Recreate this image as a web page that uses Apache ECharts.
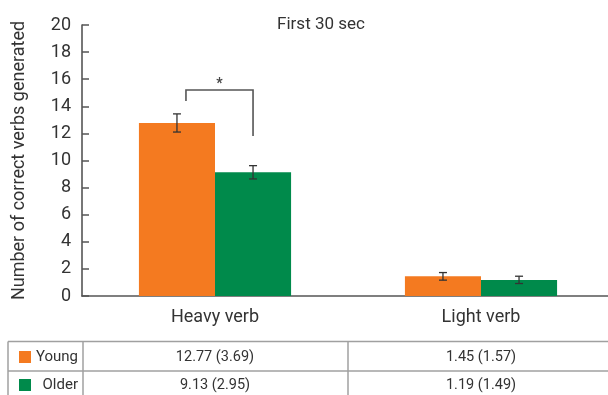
<!DOCTYPE html>
<html>
<head>
<meta charset="utf-8">
<script src="https://cdn.jsdelivr.net/npm/echarts@6/dist/echarts.min.js"></script>
<style>
  html, body { margin: 0; padding: 0; background: #fff; }
  #chart { width: 608px; height: 395px; }
</style>
</head>
<body>
<div id="chart"></div>
<script>
// Verb generation in the first 30 seconds, by age group
const categories = ['Heavy verb', 'Light verb'];
const groups = ['Young', 'Older'];
const youngMean = [12.77, 1.45];
const youngSD = [3.69, 1.57];
const olderMean = [9.13, 1.19];
const olderSD = [2.95, 1.49];
// half-length of the error bars (standard error)
const youngErr = [0.67, 0.28];
const olderErr = [0.49, 0.27];
const yTicks = [0, 2, 4, 6, 8, 10, 12, 14, 16, 18, 20];
// significance bracket over Heavy verb: [category, left leg end, top, right leg end]
const bracket = [[0, 14.4, 15.2, 11.8]];

const colors = ['#F47A20', '#008A4B'];
const FONT = 'Roboto, "Noto Sans", sans-serif';
const BAR_FRAC = 0.286;

const chart = echarts.init(document.getElementById('chart'));

function errRender(seriesIdx) {
  return function (params, api) {
    const cat = api.value(0);
    const lo = api.coord([cat, api.value(1)]);
    const hi = api.coord([cat, api.value(2)]);
    const band = api.size([1, 0])[0];
    const bw = band * BAR_FRAC;
    const x = lo[0] + (seriesIdx === 0 ? -bw / 2 : bw / 2);
    const cap = 4;
    const st = { stroke: '#333', lineWidth: 1.3 };
    return {
      type: 'group',
      children: [
        { type: 'line', shape: { x1: x, y1: lo[1], x2: x, y2: hi[1] }, style: st },
        { type: 'line', shape: { x1: x - cap, y1: lo[1], x2: x + cap, y2: lo[1] }, style: st },
        { type: 'line', shape: { x1: x - cap, y1: hi[1], x2: x + cap, y2: hi[1] }, style: st }
      ]
    };
  };
}

function bracketRender(params, api) {
  const cat = api.value(0);
  const band = api.size([1, 0])[0];
  const bw = band * BAR_FRAC;
  const c = api.coord([cat, 0])[0];
  const xl = c - bw / 2 + 9;
  const xr = c + bw / 2;
  const yl = api.coord([cat, api.value(1)])[1];
  const yt = api.coord([cat, api.value(2)])[1];
  const yr = api.coord([cat, api.value(3)])[1];
  return {
    type: 'group',
    children: [
      { type: 'polyline', shape: { points: [[xl, yl], [xl, yt], [xr, yt], [xr, yr]] },
        style: { stroke: '#555', lineWidth: 1.6, fill: null } },
      { type: 'text', style: { text: '*', x: (xl + xr) / 2, y: yt + 1, align: 'center',
        verticalAlign: 'bottom', font: 'bold 14px ' + FONT, fill: '#444' } }
    ]
  };
}

chart.setOption({
  animation: false,
  title: {
    text: 'First 30 sec',
    left: 316, top: 11, textAlign: 'center',
    textStyle: { fontFamily: FONT, fontSize: 17, fontWeight: 'normal', color: '#333' }
  },
  grid: { left: 82, right: -6, top: 25, bottom: 99, containLabel: false, outerBoundsMode: 'none' },
  xAxis: {
    type: 'category',
    data: categories,
    axisLine: { lineStyle: { color: '#555', width: 1.6 } },
    axisTick: { show: false },
    axisLabel: { fontFamily: FONT, fontSize: 18, color: '#333', margin: 12 }
  },
  yAxis: {
    type: 'value',
    min: yTicks[0], max: yTicks[yTicks.length - 1], interval: 2,
    name: 'Number of correct verbs generated',
    nameLocation: 'middle', nameGap: 54,
    nameTextStyle: { fontFamily: FONT, fontSize: 18, color: '#333' },
    axisLine: { show: true, lineStyle: { color: '#555', width: 1.6 } },
    axisTick: { show: true, inside: true, length: 7, lineStyle: { color: '#555', width: 1.5 } },
    axisLabel: { fontFamily: FONT, fontSize: 18, color: '#333', margin: 11 },
    splitLine: { show: false }
  },
  series: [
    { name: groups[0], type: 'bar', data: youngMean, barWidth: (BAR_FRAC * 100) + '%', barGap: '0%',
      itemStyle: { color: colors[0] }, z: 1 },
    { name: groups[1], type: 'bar', data: olderMean, barWidth: (BAR_FRAC * 100) + '%', barGap: '0%',
      itemStyle: { color: colors[1] }, z: 1 },
    { type: 'custom', renderItem: errRender(0), z: 5,
      data: youngMean.map((m, i) => [i, m - youngErr[i], m + youngErr[i]]) },
    { type: 'custom', renderItem: errRender(1), z: 5,
      data: olderMean.map((m, i) => [i, m - olderErr[i], m + olderErr[i]]) },
    { type: 'custom', renderItem: bracketRender, z: 5, data: bracket }
  ]
});

// Summary table under the plot: mean (SD) per group and verb type
function drawTable() {
  const lineStyle = { stroke: '#a0a0a0', lineWidth: 1.5 };
  const rowY = [357, 385];
  const els = [
    { type: 'line', shape: { x1: 8, y1: 341.5, x2: 608, y2: 341.5 }, style: lineStyle },
    { type: 'line', shape: { x1: 8, y1: 371, x2: 608, y2: 371 }, style: lineStyle },
    { type: 'line', shape: { x1: 8, y1: 341.5, x2: 8, y2: 395 }, style: lineStyle },
    { type: 'line', shape: { x1: 83, y1: 341.5, x2: 83, y2: 395 }, style: lineStyle }
  ];
  const centers = categories.map((c, i) => chart.convertToPixel({ xAxisIndex: 0 }, i));
  const divX = (centers[0] + centers[1]) / 2;
  els.push({ type: 'line', shape: { x1: divX, y1: 341.5, x2: divX, y2: 395 }, style: lineStyle });
  const means = [youngMean, olderMean];
  const sds = [youngSD, olderSD];
  groups.forEach((g, r) => {
    els.push({ type: 'rect', shape: { x: 19, y: rowY[r] - 6, width: 12, height: 12 },
      style: { fill: colors[r] } });
    els.push({ type: 'text', style: { text: g, x: 78, y: rowY[r], align: 'right',
      verticalAlign: 'middle', font: '15px ' + FONT, fill: '#333' } });
    categories.forEach((c, i) => {
      els.push({ type: 'text', style: {
        text: means[r][i].toFixed(2) + ' (' + sds[r][i].toFixed(2) + ')',
        x: centers[i], y: rowY[r], align: 'center', verticalAlign: 'middle',
        font: '14.5px ' + FONT, fill: '#333' } });
    });
  });
  chart.setOption({ graphic: { elements: els } });
}
drawTable();
</script>
</body>
</html>
